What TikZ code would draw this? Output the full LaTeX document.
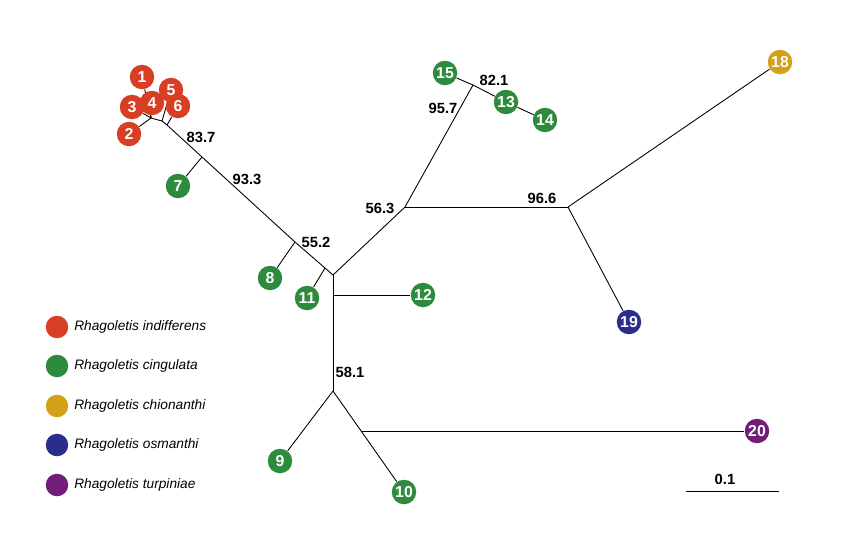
\documentclass[tikz,border=0pt]{standalone}
\usepackage{fontspec}
\setmainfont{Liberation Sans}
\usetikzlibrary{backgrounds}
\definecolor{indif}{RGB}{216,62,36}
\definecolor{cingu}{RGB}{46,139,62}
\definecolor{chion}{RGB}{212,160,24}
\definecolor{osman}{RGB}{42,46,138}
\definecolor{turpi}{RGB}{112,30,120}
\begin{document}
\begin{tikzpicture}[x=0.02cm,y=-0.02cm]
\tikzstyle{leaf}=[circle, inner sep=0pt, minimum size=0.49cm, text=white, font=\fontsize{9}{9}\selectfont\bfseries]
\tikzstyle{boot}=[font=\fontsize{8.4}{9}\selectfont\bfseries]
\tikzstyle{key}=[circle, inner sep=0pt, minimum size=0.45cm]
\tikzstyle{keytext}=[anchor=west, inner sep=0pt, font=\fontsize{7.8}{9}\selectfont\itshape]
\tikzstyle{br}=[line width=0.5pt]
\useasboundingbox (0,0) rectangle (849,538);
% taxa
\foreach \n/\x/\y/\c in {1/142/77/indif,2/129/134/indif,3/132/107/indif,5/171/90/indif,4/152/103/indif,6/178/106/indif,
  7/178/186/cingu,8/270/278/cingu,11/307/298/cingu,12/423/295/cingu,15/445/73/cingu,13/506/102/cingu,14/545/120/cingu,
  9/280/461/cingu,10/404/492/cingu,18/780/62/chion,19/629/322/osman,20/757/431/turpi}
\node[leaf,fill=\c] (n\n) at (\x,\y) {\n};
% internal nodes
\coordinate (j1) at (151,118);
\coordinate (j2) at (162,121);
\coordinate (j3) at (167,125);
\coordinate (j7) at (202,157);
\coordinate (j8) at (295,242);
\coordinate (j11) at (325,268);
\coordinate (jc) at (333,275);
\coordinate (j12) at (333,295);
\coordinate (j56) at (405,207);
\coordinate (j82) at (473,85);
\coordinate (j96) at (568,207);
\coordinate (j58) at (333,391);
\coordinate (j20) at (361,431);
\begin{scope}[on background layer]
\draw[br] (j1)--(n1); \draw[br] (j1)--(n2); \draw[br] (j1)--(n3); \draw[br] (j1)--(n4);
\draw[br] (j1)--(j2)--(j3); \draw[br] (j2)--(n5); \draw[br] (j3)--(n6);
\draw[br] (j3)--(j7)--(j8)--(j11)--(jc);
\draw[br] (j7)--(n7); \draw[br] (j8)--(n8); \draw[br] (j11)--(n11);
\draw[br] (jc)--(j58); \draw[br] (j12)--(n12);
\draw[br] (jc)--(j56)--(j82); \draw[br] (j56)--(j96);
\draw[br] (j82)--(n15); \draw[br] (j82)--(n13); \draw[br] (n13)--(n14);
\draw[br] (j96)--(n18); \draw[br] (j96)--(n19);
\draw[br] (j58)--(n9); \draw[br] (j58)--(n10); \draw[br] (j20)--(n20);
\end{scope}
% bootstrap values
\node[boot] (b837) at (201,137) {83.7};
\node[boot] (b933) at (247,179) {93.3};
\node[boot] (b552) at (316,242) {55.2};
\node[boot] (b563) at (380,208) {56.3};
\node[boot] (b957) at (443,108) {95.7};
\node[boot] (b821) at (494,80) {82.1};
\node[boot] (b966) at (542,198) {96.6};
\node[boot] (b581) at (350,372) {58.1};
% scale bar
\coordinate (s0) at (686,491);
\coordinate (s1) at (779,491);
\draw[br] (s0)--(s1);
\node[boot] (scale) at (725,479) {0.1};
% legend
\foreach \i/\y/\c/\name in {1/327/indif/indifferens,2/366/cingu/cingulata,3/406/chion/chionanthi,4/445/osman/osmanthi,5/485/turpi/turpiniae}{
\node[key,fill=\c] (leg\i) at (57,\y) {};
\node[keytext] (legt\i) at (74,\y) {Rhagoletis \name};
}
\end{tikzpicture}
\end{document}
